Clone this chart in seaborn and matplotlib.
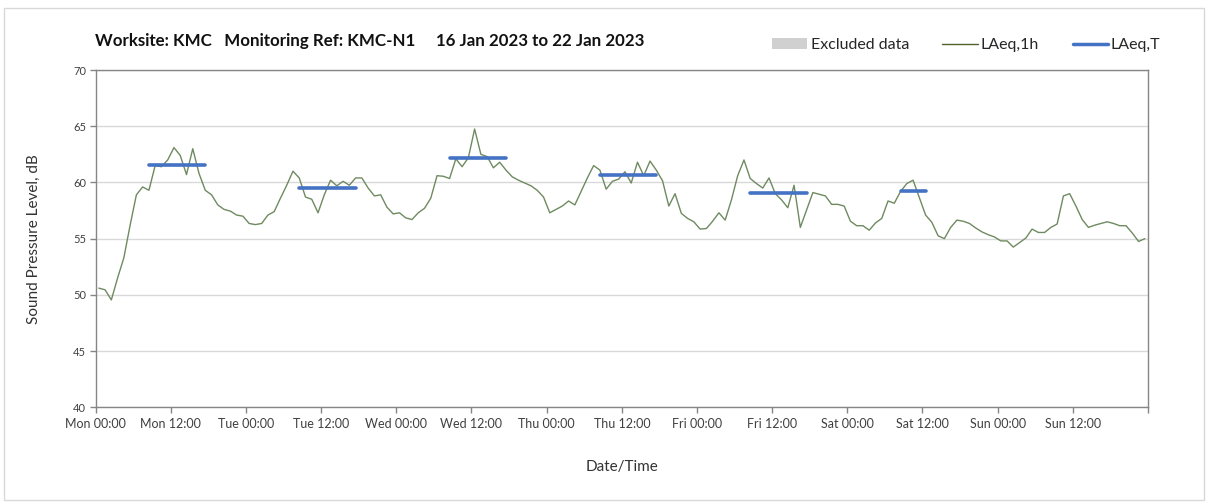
import numpy as np
import pandas as pd
import matplotlib
matplotlib.use("Agg")
import matplotlib.pyplot as plt
from matplotlib.patches import Patch, Rectangle
from matplotlib.lines import Line2D
import seaborn as sns

# hourly LAeq,1h, 16 Jan 00:00 -> 22 Jan 23:00
laeq_1h = [
    50.6, 50.45, 49.55, 51.5, 53.3, 56.2, 58.9, 59.6, 59.3, 61.5,
    61.4, 62.0, 63.1, 62.4, 60.7, 63.0, 60.8, 59.3, 58.9, 58.0,
    57.6, 57.45, 57.1, 57.0, 56.35, 56.25, 56.35, 57.1, 57.4, 58.6,
    59.75, 61.0, 60.4, 58.7, 58.5, 57.3, 58.9, 60.2, 59.7, 60.1,
    59.75, 60.4, 60.4, 59.5, 58.8, 58.9, 57.8, 57.2, 57.3, 56.85,
    56.7, 57.3, 57.7, 58.6, 60.6, 60.55, 60.35, 62.1, 61.4, 62.2,
    64.75, 62.5, 62.3, 61.3, 61.8, 61.1, 60.5, 60.2, 59.95, 59.7,
    59.3, 58.7, 57.3, 57.6, 57.9, 58.35, 58.0, 59.2, 60.4, 61.5,
    61.1, 59.4, 60.1, 60.3, 60.95, 59.95, 61.8, 60.6, 61.9, 61.1,
    60.15, 57.9, 59.0, 57.25, 56.8, 56.5, 55.85, 55.9, 56.55, 57.3,
    56.65, 58.45, 60.6, 62.0, 60.35, 59.9, 59.5, 60.4, 59.0, 58.45,
    57.75, 59.75, 56.0, 57.55, 59.1, 58.95, 58.8, 58.05, 58.05, 57.9,
    56.55, 56.15, 56.15, 55.75, 56.4, 56.8, 58.35, 58.15, 59.2, 59.9,
    60.2, 58.65, 57.1, 56.45, 55.25, 55.0, 56.0, 56.65, 56.55, 56.35,
    55.95, 55.6, 55.35, 55.15, 54.8, 54.8, 54.25, 54.65, 55.05, 55.85,
    55.55, 55.55, 56.0, 56.3, 58.8, 59.0, 57.9, 56.7, 56.0, 56.2,
    56.35, 56.5, 56.35, 56.15, 56.15, 55.5, 54.75, 55.0,
]

# LAeq,T for each daytime period (first and last hourly value covered)
period_from = ["2023-01-16 08:30", "2023-01-17 08:30", "2023-01-18 08:30",
               "2023-01-19 08:30", "2023-01-20 08:30", "2023-01-21 08:30"]
period_to = ["2023-01-16 17:30", "2023-01-17 17:30", "2023-01-18 17:30",
             "2023-01-19 17:30", "2023-01-20 17:30", "2023-01-21 12:30"]
laeq_t = [61.55, 59.5, 62.2, 60.7, 59.05, 59.25]

tick_labels = ["Mon 00:00", "Mon 12:00", "Tue 00:00", "Tue 12:00", "Wed 00:00",
               "Wed 12:00", "Thu 00:00", "Thu 12:00", "Fri 00:00", "Fri 12:00",
               "Sat 00:00", "Sat 12:00", "Sun 00:00", "Sun 12:00", ""]

times = pd.date_range("2023-01-16 00:30", periods=len(laeq_1h), freq="h")
df = pd.DataFrame({"time": times, "level": laeq_1h})

seg = pd.DataFrame({
    "period": np.repeat(np.arange(len(laeq_t)), 2),
    "time": pd.to_datetime(np.ravel(np.column_stack([period_from, period_to]))),
    "level": np.repeat(laeq_t, 2),
})

sns.set_theme(style="white")
plt.rcParams["font.family"] = ["Lato", "DejaVu Sans"]

fig = plt.figure(figsize=(12.08, 5.03), dpi=100)
ax = fig.add_axes([0.0792, 0.1903, 0.8711, 0.6705])

sns.lineplot(data=df, x="time", y="level", color="#6f8a60", lw=1.0, ax=ax)
sns.lineplot(data=seg, x="time", y="level", units="period", estimator=None,
             color="#4472c4", lw=2.6, ax=ax)

start = pd.Timestamp("2023-01-16 00:00")
end = pd.Timestamp("2023-01-23 00:00")
ax.set_xlim(start, end)
ax.set_ylim(40, 70)
ax.set_yticks(range(40, 71, 5))

ax.set_xticks(pd.date_range(start, end, freq="12h"))
ax.set_xticklabels(tick_labels)
ax.set_xticks(pd.date_range(start, end, freq="24h"), minor=True)

ax.grid(axis="y", color="#d9d9d9", lw=1)
ax.grid(axis="x", which="minor", color="#d9d9d9", lw=1)
ax.tick_params(axis="x", which="minor", length=0)
ax.tick_params(axis="both", which="major", direction="out", length=4, width=1,
               color="#868686", labelcolor="#404040", bottom=True, left=True)
ax.tick_params(axis="x", labelsize=9, pad=4)
ax.tick_params(axis="y", labelsize=8, pad=3)
for s in ax.spines.values():
    s.set_color("#868686")
    s.set_linewidth(1)

ax.set_xlabel("Date/Time", fontsize=11, color="#333333")
ax.set_ylabel("Sound Pressure Level, dB", fontsize=11, color="#333333")
ax.xaxis.set_label_coords(0.5, -0.155)
ax.yaxis.set_label_coords(-0.052, 0.5)

fig.text(95 / 1208, 1 - 41 / 503,
         "Worksite: KMC   Monitoring Ref: KMC-N1     16 Jan 2023 to 22 Jan 2023",
         fontsize=12.2, fontweight="bold", va="center", color="#111111")

handles = [
    Patch(facecolor="#d0d0d0", edgecolor="none", label="Excluded data"),
    Line2D([], [], color="#4f6228", lw=1, label="LAeq,1h"),
    Line2D([], [], color="#4472c4", lw=2.5, label="LAeq,T"),
]
fig.legend(handles=handles, ncol=3, frameon=False, loc="center",
           bbox_to_anchor=(0.80, 0.91), fontsize=11.5, handlelength=2.2,
           handletextpad=0.2, columnspacing=2.1)

fig.patches.append(Rectangle((4 / 1208, 3 / 503), 1200 / 1208, 492 / 503,
                             transform=fig.transFigure, fill=False,
                             edgecolor="#d9d9d9", lw=1))

fig.savefig("out.png", dpi=100)
